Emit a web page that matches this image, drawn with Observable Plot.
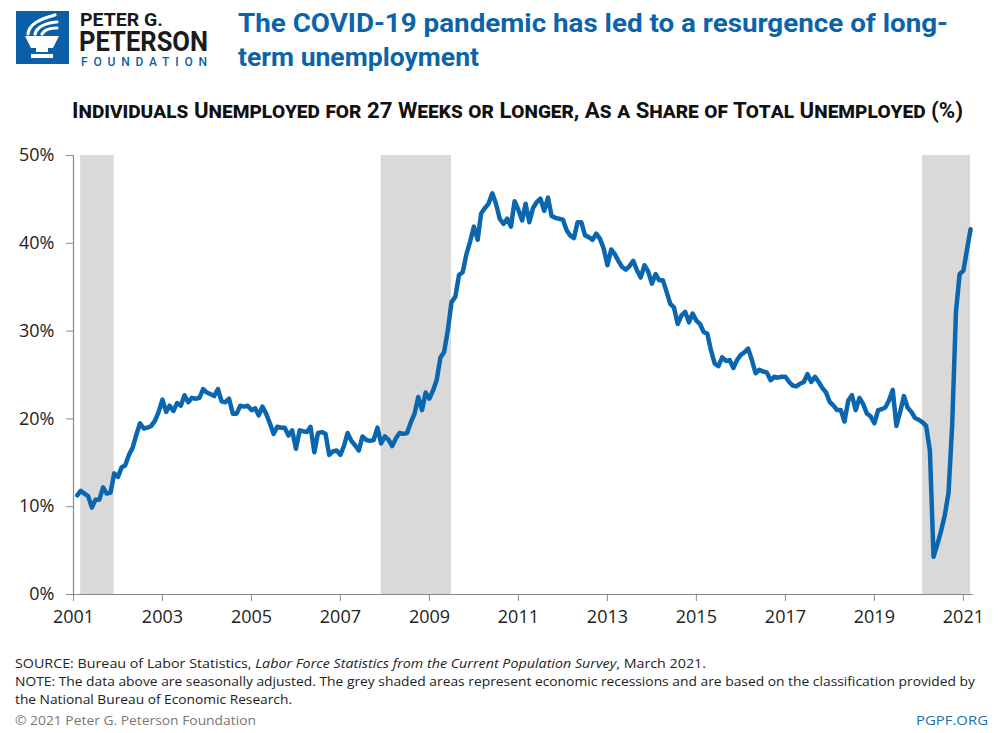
<!DOCTYPE html>
<html><head><meta charset="utf-8">
<script src="https://cdn.jsdelivr.net/npm/d3@7"></script>
<script src="https://cdn.jsdelivr.net/npm/@observablehq/plot@0.6"></script>
<style>
body{margin:0;background:#fff;width:1000px;height:733px;overflow:hidden;position:relative;}
#overlay{position:absolute;left:0;top:0;}
#chart{position:absolute;left:0;top:130px;}
</style></head><body>
<svg id="overlay" width="1000" height="733" xmlns="http://www.w3.org/2000/svg">
  <rect x="16" y="11" width="53" height="53" fill="#0b5fa6"/>
  <g fill="none" stroke="#fff" stroke-width="3.2" stroke-linecap="round">
    <path d="M28,34 C29,24 40,19 55,15"/>
    <path d="M35,34 C37,27 46,23 57,22"/>
    <path d="M42,34 C44,30 50,28 57,28"/>
  </g>
  <path d="M25,36 L59,36 L53,48 L31,48 Z" fill="#fff"/>
  <rect x="36" y="48" width="12" height="4" fill="#fff"/>
  <rect x="31" y="54" width="22" height="4" fill="#fff"/>
  <text x="80" y="26" font-family="Roboto" font-weight="700" font-size="18" fill="#1a1a1a" textLength="83" lengthAdjust="spacingAndGlyphs">PETER G.</text>
  <text x="79" y="51" font-family="Roboto" font-weight="700" font-size="28" fill="#1a1a1a" textLength="129" lengthAdjust="spacingAndGlyphs">PETERSON</text>
  <text x="81" y="66" font-family="Roboto" font-weight="500" font-size="12" fill="#0b5fa6" textLength="126" lengthAdjust="spacing">FOUNDATION</text>
  <text x="238" y="32" font-family="Roboto" font-weight="700" font-size="26" fill="#0b64a9" textLength="710" lengthAdjust="spacingAndGlyphs">The COVID-19 pandemic has led to a resurgence of long-</text>
  <text x="238" y="66" font-family="Roboto" font-weight="700" font-size="26" fill="#0b64a9" textLength="241" lengthAdjust="spacingAndGlyphs">term unemployment</text>
  <text x="72" y="118" font-family="Roboto" font-weight="700" font-size="22" fill="#111" style="font-variant:small-caps" textLength="891" lengthAdjust="spacingAndGlyphs">Individuals Unemployed for 27 Weeks or Longer, As a Share of Total Unemployed (%)</text>
  <text x="15" y="668" font-family="'Open Sans'" font-size="13.5" fill="#222" textLength="691" lengthAdjust="spacingAndGlyphs">SOURCE: Bureau of Labor Statistics, <tspan font-style="italic">Labor Force Statistics from the Current Population Survey</tspan>, March 2021.</text>
  <text x="15" y="686" font-family="'Open Sans'" font-size="13.5" fill="#222" textLength="960" lengthAdjust="spacingAndGlyphs">NOTE: The data above are seasonally adjusted. The grey shaded areas represent economic recessions and are based on the classification provided by</text>
  <text x="15" y="704" font-family="'Open Sans'" font-size="13.5" fill="#222" textLength="277" lengthAdjust="spacingAndGlyphs">the National Bureau of Economic Research.</text>
  <text x="15" y="725" font-family="'Open Sans'" font-size="13.5" fill="#777" textLength="241" lengthAdjust="spacingAndGlyphs">© 2021 Peter G. Peterson Foundation</text>
  <text x="988" y="725" font-family="'Open Sans'" font-size="13.5" fill="#1a6fb5" text-anchor="end" textLength="72" lengthAdjust="spacingAndGlyphs">PGPF.ORG</text>
</svg>
<div id="chart"></div>
<script>
// Monthly share (%) of unemployed out of work 27+ weeks, Jan 2001 – Feb 2021,
// each value placed at the end of its month.
const longTermShare = [
  11.3, 11.8, 11.5, 11.2, 9.9, 10.8, 10.8, 12.2, 11.5, 11.6, 13.8, 13.4,
  14.5, 14.7, 15.9, 16.7, 18.2, 19.5, 18.9, 19.0, 19.2, 19.8, 20.8, 22.2,
  20.8, 21.5, 20.9, 21.8, 21.5, 22.7, 21.9, 22.4, 22.3, 22.4, 23.4, 23.0,
  22.8, 22.6, 23.4, 22.0, 21.9, 22.3, 20.6, 20.6, 21.5, 21.4, 21.5, 21.0,
  21.2, 20.4, 21.4, 20.6, 19.5, 18.3, 19.1, 19.0, 19.0, 18.1, 18.7, 16.6,
  18.7, 18.6, 18.5, 19.1, 16.2, 18.4, 18.5, 18.3, 15.9, 16.3, 16.4, 15.9,
  17.0, 18.4, 17.5, 17.0, 16.4, 18.0, 17.6, 17.5, 17.6, 19.0, 17.2, 18.0,
  17.6, 16.9, 17.8, 18.4, 18.3, 18.4, 19.6, 20.6, 22.5, 21.0, 23.0, 22.3,
  23.3, 24.4, 27.0, 27.6, 30.1, 33.3, 33.9, 36.4, 36.7, 38.8, 40.2, 41.9,
  40.4, 43.4, 44.0, 44.5, 45.7, 44.5, 42.8, 42.2, 42.8, 41.9, 44.8, 43.8,
  42.6, 44.5, 42.4, 44.0, 44.7, 45.1, 43.7, 45.2, 43.1, 42.9, 42.8, 42.7,
  41.5, 40.9, 40.6, 42.4, 42.4, 40.9, 40.7, 40.4, 41.1, 40.5, 39.4, 37.5,
  39.3, 38.8, 38.0, 37.3, 37.0, 37.4, 38.0, 36.9, 36.1, 37.5, 36.8, 35.4,
  36.5, 35.8, 35.8, 34.5, 33.1, 32.7, 30.8, 31.8, 32.2, 31.0, 32.0, 31.2,
  30.8, 29.9, 29.7, 27.8, 26.3, 26.0, 27.0, 26.6, 26.7, 25.8, 26.7, 27.3,
  27.6, 28.0, 26.7, 25.2, 25.6, 25.4, 25.3, 24.4, 24.8, 24.7, 24.8, 24.8,
  24.2, 23.8, 23.7, 24.0, 24.2, 25.1, 24.2, 24.8, 24.2, 23.5, 23.0, 21.9,
  21.5, 21.0, 21.0, 19.7, 22.1, 22.7, 21.0, 22.4, 21.7, 20.6, 20.3, 19.5,
  21.0, 21.1, 21.3, 22.1, 23.3, 19.2, 20.8, 22.6, 21.3, 20.8, 20.1, 19.9,
  19.6, 19.2, 16.4, 4.3, 5.7, 7.2, 9.0, 11.6, 19.3, 32.2, 36.5, 36.9,
  39.4, 41.6
];
const firstMonthEnd = "2001-02-01";
const recessionStarts = ["2001-03-01", "2007-12-01", "2020-02-01"];
const recessionEnds = ["2001-12-01", "2009-07-01", "2021-03-01"];
const yTicks = [0, 10, 20, 30, 40, 50];
const xTickYears = [2001, 2003, 2005, 2007, 2009, 2011, 2013, 2015, 2017, 2019, 2021];

const start = new Date(firstMonthEnd);
const data = longTermShare.map((v, i) => ({date: d3.utcMonth.offset(start, i), value: v}));
const recessions = recessionStarts.map((s, i) => ({start: new Date(s), end: new Date(recessionEnds[i])}));
const xTicks = xTickYears.map(y => new Date(Date.UTC(y, 0, 1)));
const x0 = new Date(Date.UTC(2001, 0, 1));

const chart = Plot.plot({
  width: 1000,
  height: 510,
  marginTop: 25,
  marginBottom: 46,
  marginLeft: 73,
  marginRight: 27,
  x: {type: "utc", domain: [x0, new Date(Date.UTC(2021, 2, 25))]},
  y: {domain: [0, 50]},
  style: {fontFamily: "'Open Sans', sans-serif", fontSize: "18px", color: "#222", background: "transparent"},
  marks: [
    Plot.rect(recessions, {x1: "start", x2: "end", y1: 0, y2: 50, fill: "#d9d9d9"}),
    Plot.ruleY([0], {stroke: "#8a8a8a", strokeWidth: 1.2}),
    Plot.ruleX([x0], {stroke: "#8a8a8a", strokeWidth: 1.2}),
    Plot.axisY({ticks: yTicks, tickFormat: d => d + "%", tickSize: 7, tickPadding: 12, stroke: "#8a8a8a", fill: "#222", label: null}),
    Plot.axisX({ticks: xTicks, tickFormat: d3.utcFormat("%Y"), tickSize: 7, tickPadding: 9, stroke: "#8a8a8a", fill: "#222", label: null}),
    Plot.line(data, {x: "date", y: "value", stroke: "#0b66b0", strokeWidth: 4.5, strokeLinejoin: "round", strokeLinecap: "round"})
  ]
});
document.getElementById("chart").appendChild(chart);
</script>
</body></html>
